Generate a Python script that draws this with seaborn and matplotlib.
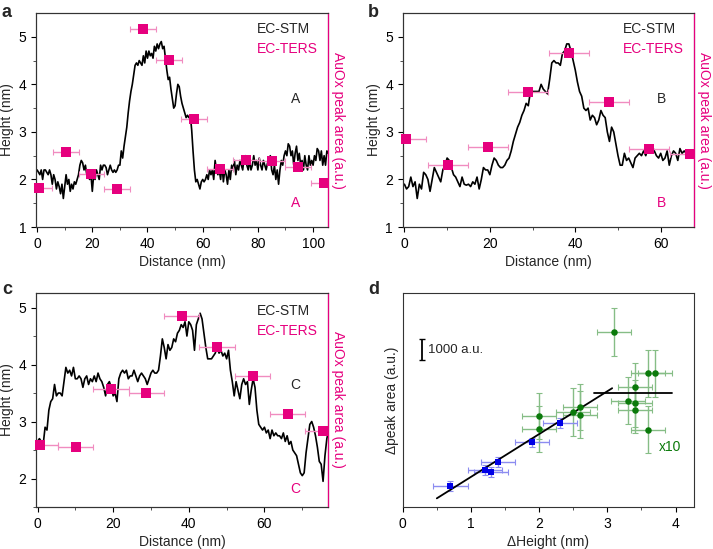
import numpy as np
import pandas as pd
import matplotlib
matplotlib.use("Agg")
import matplotlib.pyplot as plt
import seaborn as sns

# ---------------------------------------------------------------- data
# EC-STM height profiles (nm), sampled every 0.5 nm
STEP = 0.5
height_a = [
    2.2, 2.15, 2.1, 2.2, 2.0, 2.2, 2.2, 2.15, 2.1, 2.2,
    2.1, 1.9, 2.1, 2.0, 1.8, 1.95, 1.85, 1.7, 1.9, 1.6,
    1.85, 2.1, 1.9, 2.0, 1.75, 1.9, 1.8, 1.95, 1.9, 2.0,
    2.1, 2.3, 2.4, 2.35, 2.2, 2.3, 2.1, 2.2, 2.0, 2.1,
    1.75, 2.1, 2.0, 2.2, 2.1, 2.0, 2.3, 2.2, 2.3, 2.3,
    2.25, 2.1, 2.2, 2.3, 2.2, 2.15, 2.2, 2.15, 2.2, 2.3,
    2.3, 2.6, 2.45, 2.7, 2.9, 3.1, 3.4, 3.65, 3.85, 4.0,
    4.2, 4.4, 4.45, 4.4, 4.5, 4.45, 4.4, 4.6, 4.45, 4.7,
    4.55, 4.7, 4.6, 4.65, 4.55, 4.8, 4.7, 4.85, 4.75, 4.85,
    4.9, 4.75, 4.8, 4.55, 4.3, 4.1, 4.15, 3.9, 3.7, 3.5,
    3.55, 3.8, 4.0, 3.95, 3.75, 3.6, 3.5, 3.4, 3.3, 3.35,
    3.3, 3.35, 3.05, 2.6, 2.2, 1.95, 2.0, 1.9, 1.8, 1.95,
    2.0, 1.95, 2.0, 2.1, 2.0, 2.2, 2.1, 2.2, 2.0, 2.4,
    2.2, 2.1, 2.2, 2.0, 2.3, 1.95, 2.2, 2.1, 1.9, 2.2,
    2.0, 2.3, 2.2, 2.4, 2.1, 2.3, 2.2, 2.4, 2.3, 2.2,
    2.45, 2.5, 2.3, 2.2, 2.4, 2.2, 2.3, 2.5, 2.3, 2.4,
    2.2, 2.45, 2.3, 2.2, 2.4, 2.3, 2.2, 2.35, 2.3, 2.5,
    2.2, 2.1, 2.3, 2.0, 2.2, 1.9, 2.2, 2.4, 2.3, 2.5,
    2.6, 2.5, 2.75, 2.7, 2.5, 2.6, 2.3, 2.55, 2.7, 2.4,
    2.55, 2.3, 2.4, 2.2, 2.5, 2.3, 2.2, 2.5, 2.3, 2.4,
    2.3, 2.5, 2.4, 2.65, 2.6, 2.4, 2.6, 2.3, 2.5, 2.3,
    2.6, 2.55,
]
height_b = [
    1.9, 1.8, 1.85, 2.05, 1.85, 1.95, 1.6, 1.9, 1.8, 2.15,
    2.1, 2.0, 1.75, 2.0, 2.25, 2.15, 2.05, 1.95, 2.2, 2.3,
    2.45, 2.4, 2.25, 2.1, 2.05, 1.95, 1.85, 2.05, 1.9, 1.88,
    1.9, 1.85, 1.95, 1.9, 2.05, 1.8, 2.0, 2.25, 2.2, 2.2,
    2.1, 2.3, 2.45, 2.4, 2.3, 2.25, 2.25, 2.3, 2.4, 2.45,
    2.6, 2.8, 2.95, 3.1, 3.2, 3.35, 3.45, 3.6, 3.55, 3.85,
    3.85, 3.85, 3.85, 3.85, 4.0, 3.9, 3.85, 3.8, 4.1, 4.45,
    4.5, 4.45, 4.45, 4.4, 4.65, 4.7, 4.85, 4.85, 4.7, 4.5,
    4.3, 4.05, 3.85, 3.75, 3.5, 3.45, 3.5, 3.25, 3.35, 3.3,
    3.15, 3.25, 3.45, 3.35, 3.3, 3.0, 2.8, 3.1, 3.0, 2.75,
    2.5, 2.3, 2.3, 2.55, 2.4, 2.45, 2.35, 2.25, 2.45, 2.5,
    2.55, 2.5, 2.6, 2.5, 2.65, 2.6, 2.7, 2.6, 2.5, 2.45,
    2.55, 2.4, 2.45, 2.6, 2.3, 2.5, 2.6, 2.55, 2.4, 2.65,
    2.55, 2.6, 2.55, 2.5,
]
height_c = [
    2.65, 2.7, 2.65, 2.6, 2.9, 2.85, 3.2, 3.35, 3.4, 3.65,
    3.45, 3.5, 3.5, 3.45, 3.7, 3.95, 3.85, 3.9, 3.8, 3.95,
    3.75, 3.75, 3.8, 3.75, 3.6, 3.75, 3.8, 3.65, 3.75, 3.7,
    3.8, 3.7, 3.85, 3.75, 3.7, 3.6, 3.45, 3.65, 3.7, 3.6,
    3.45, 3.5, 3.35, 3.75, 3.85, 3.9, 3.85, 3.9, 3.75, 3.8,
    3.8, 3.9, 3.8, 3.7, 3.8, 3.85, 3.8, 3.75, 3.65, 3.75,
    3.85, 3.9, 3.85, 3.85, 3.9, 4.15, 4.45, 4.3, 4.1, 4.35,
    4.25, 4.3, 4.45, 4.4, 4.55, 4.6, 4.7, 4.65, 4.75, 4.5,
    4.75, 4.7, 4.6, 4.25, 4.7, 4.8, 4.9, 4.8, 4.55, 4.3,
    4.1, 4.1, 4.1, 4.15, 4.2, 4.3, 4.2, 4.25, 4.15, 4.2,
    4.1, 4.25, 3.9, 3.7, 3.45, 3.7, 3.55, 3.4, 3.65, 3.75,
    3.65, 3.7, 3.3, 3.55, 3.75, 3.6, 3.2, 2.95, 2.9, 2.85,
    2.9, 2.8, 2.85, 2.7, 2.85, 2.75, 2.8, 2.75, 2.75, 2.7,
    2.8, 2.65, 2.75, 2.6, 2.65, 2.5, 2.45, 2.4, 2.25, 2.1,
    2.05, 2.1, 2.45, 2.7, 2.95, 3.0, 2.9, 2.75, 2.55, 2.3,
    2.25, 1.95, 2.4, 2.7, 2.85,
]

# EC-TERS AuOx peak area (plotted in height-axis units, right axis unlabeled)
ters_a_x = [0.85, 10.4, 19.7, 28.8, 38.4, 47.8, 56.9, 66.2, 75.8, 85.0, 94.5, 103.9]
ters_a_y = [1.83, 2.58, 2.12, 1.80, 5.17, 4.51, 3.27, 2.22, 2.41, 2.39, 2.27, 1.92]
ters_b_x = [0.3, 10.2, 19.6, 28.9, 38.5, 47.9, 57.3, 66.8]
ters_b_y = [2.85, 2.31, 2.69, 3.83, 4.66, 3.62, 2.64, 2.53]
ters_c_x = [0.7, 10.1, 19.5, 28.8, 38.1, 47.5, 56.9, 66.1, 75.5]
ters_c_y = [2.58, 2.55, 3.57, 3.50, 4.85, 4.31, 3.79, 3.14, 2.84]
ters_xerr = 4.7

# panel d: peak area change vs height change
blue_x = [0.70, 1.20, 1.30, 1.40, 1.90, 2.30]
blue_y = [1030, 1810, 1690, 2190, 3130, 4065]
blue_yerr = [240, 240, 240, 240, 240, 240]
green_x = [3.10, 3.60, 3.70, 3.40, 3.30, 3.40, 3.40, 3.60, 2.50, 2.60, 2.60, 2.00, 2.00]
green_y = [8500, 6485, 6485, 5840, 5160, 5030, 4710, 3740, 4615, 4840, 4485, 4420, 3790]
green_yerr = [1160, 1130, 1130, 1130, 1130, 1130, 1130, 1140, 1160, 1130, 1130, 1130, 1130]
dxerr = 0.25
fit_x = [0.50, 3.07]
fit_y = [420, 5760]
plateau_x = [2.81, 3.94]
plateau_y = [5515, 5515]
scalebar_x = [0.29, 0.29]
scalebar_y = [7130, 8130]

PINK = "#e6007e"
PINK_ERR = "#f08cc0"
GREEN = "#0b7a0b"
GREEN_ERR = "#86bd86"
BLUE = "#0000e6"
BLUE_ERR = "#8c8cf0"
SPINE = "#333333"
FS = 10

sns.set_style("ticks")
plt.rcParams["font.family"] = ["Liberation Sans", "DejaVu Sans"]
plt.rcParams["axes.edgecolor"] = SPINE
plt.rcParams["xtick.color"] = SPINE
plt.rcParams["ytick.color"] = SPINE


def style_axis(ax, xmax, xmajor, ylim, yticks):
    ax.set_xlim(-0.4, xmax)
    ax.set_ylim(*ylim)
    ax.set_xticks(np.arange(0, xmax, xmajor))
    ax.set_xticks(np.arange(0, xmax, xmajor / 2), minor=True)
    ax.set_yticks(yticks)
    ax.set_yticks(np.arange(ylim[0], ylim[1], 0.5), minor=True)
    ax.tick_params(axis="both", which="major", length=3.5, width=0.8,
                   labelsize=FS, colors="black")
    ax.tick_params(axis="both", which="minor", length=2, width=0.6)
    ax.set_xlabel("Distance (nm)", fontsize=FS, labelpad=3)
    ax.set_ylabel("Height (nm)", fontsize=FS, labelpad=3)
    for s in ax.spines.values():
        s.set_linewidth(0.8)


def profile_panel(fig, rect, heights, tx, ty, xmax, xmajor, ylim, yticks,
                  letter, txt_y):
    ax = fig.add_axes(rect)
    df = pd.DataFrame({"dist": np.arange(len(heights)) * STEP, "h": heights})
    sns.lineplot(data=df, x="dist", y="h", ax=ax, color="black", lw=1.2)
    style_axis(ax, xmax, xmajor, ylim, yticks)

    ax2 = ax.twinx()
    ax2.set_ylim(*ylim)
    ax2.set_yticks([])
    ax2.spines["right"].set_color(PINK)
    ax2.spines["right"].set_linewidth(0.9)
    ax2.set_ylabel("AuOx peak area (a.u.)", color=PINK, fontsize=FS,
                   rotation=270, labelpad=12)
    ax2.errorbar(tx, ty, xerr=ters_xerr, fmt="none", ecolor=PINK_ERR,
                 elinewidth=1.0, capsize=2, capthick=0.8, zorder=2)
    tdf = pd.DataFrame({"x": tx, "y": ty})
    sns.scatterplot(data=tdf, x="x", y="y", ax=ax2, marker="s", s=42,
                    color=PINK, edgecolor=PINK, linewidth=0, zorder=3,
                    clip_on=False)
    ax2.set_xlim(-0.4, xmax)

    ax.text(0.757, txt_y[0], "EC-STM", transform=ax.transAxes, fontsize=FS)
    ax.text(0.757, txt_y[1], "EC-TERS", transform=ax.transAxes, fontsize=FS,
            color=PINK)
    ax.text(0.872, txt_y[2], letter, transform=ax.transAxes, fontsize=FS)
    ax.text(0.872, txt_y[3], letter, transform=ax.transAxes, fontsize=FS,
            color=PINK)
    return ax


fig = plt.figure(figsize=(7.13, 5.49), dpi=100)

ax_a = profile_panel(fig, [0.0505, 0.5865, 0.4095, 0.3898], height_a,
                     ters_a_x, ters_a_y, 105.4, 20, (1, 5.5), [1, 2, 3, 4, 5],
                     "A", (0.905, 0.815, 0.58, 0.095))
ax_b = profile_panel(fig, [0.5648, 0.5865, 0.4086, 0.3898], height_b,
                     ters_b_x, ters_b_y, 67.8, 20, (1, 5.5), [1, 2, 3, 4, 5],
                     "B", (0.905, 0.815, 0.58, 0.095))
ax_c = profile_panel(fig, [0.0505, 0.0765, 0.4095, 0.3903], height_c,
                     ters_c_x, ters_c_y, 76.8, 20, (1.5, 5.26), [2, 3, 4, 5],
                     "C", (0.895, 0.805, 0.55, 0.065))

# ---------------------------------------------------------------- panel d
ax_d = fig.add_axes([0.5648, 0.0765, 0.4086, 0.3903])
ax_d.errorbar(green_x, green_y, xerr=dxerr, yerr=green_yerr, fmt="none",
              ecolor=GREEN_ERR, elinewidth=1.0, capsize=2, capthick=0.8)
ax_d.errorbar(blue_x, blue_y, xerr=dxerr, yerr=blue_yerr, fmt="none",
              ecolor=BLUE_ERR, elinewidth=1.0, capsize=2, capthick=0.8)
sns.lineplot(x=fit_x, y=fit_y, ax=ax_d, color="black", lw=1.3)
sns.lineplot(x=plateau_x, y=plateau_y, ax=ax_d, color="black", lw=1.3)
sns.scatterplot(x=green_x, y=green_y, ax=ax_d, marker="o", s=22,
                color=GREEN, edgecolor=GREEN, linewidth=0, zorder=3)
sns.scatterplot(x=blue_x, y=blue_y, ax=ax_d, marker="s", s=16,
                color=BLUE, edgecolor=BLUE, linewidth=0, zorder=3)
ax_d.errorbar(scalebar_x[0], np.mean(scalebar_y),
              yerr=(scalebar_y[1] - scalebar_y[0]) / 2, fmt="none",
              ecolor="black", elinewidth=1.3, capsize=2.5, capthick=1.0)
ax_d.text(0.37, np.mean(scalebar_y), "1000 a.u.", fontsize=FS - 0.5,
          va="center")
ax_d.text(3.76, 2900, "x10", fontsize=FS, color=GREEN, va="center")
ax_d.set_xlim(0, 4.27)
ax_d.set_ylim(0, 10390)
ax_d.set_xticks([0, 1, 2, 3, 4])
ax_d.set_xticks(np.arange(0, 4.27, 0.5), minor=True)
ax_d.set_yticks([])
ax_d.tick_params(axis="x", which="major", length=3.5, width=0.8,
                 labelsize=FS, colors="black")
ax_d.tick_params(axis="x", which="minor", length=2, width=0.6)
ax_d.set_xlabel("\u0394Height (nm)", fontsize=FS, labelpad=3)
ax_d.set_ylabel("\u0394peak area (a.u.)", fontsize=FS, labelpad=3)
for s in ax_d.spines.values():
    s.set_linewidth(0.8)

# panel letters
for lbl, (px, py) in zip("abcd", [(2, 4), (368, 4), (2, 281), (368, 281)]):
    fig.text(px / 713, 1 - py / 549, lbl, fontsize=13, fontweight="bold",
             va="top", ha="left")

fig.savefig("out.png", dpi=100)
